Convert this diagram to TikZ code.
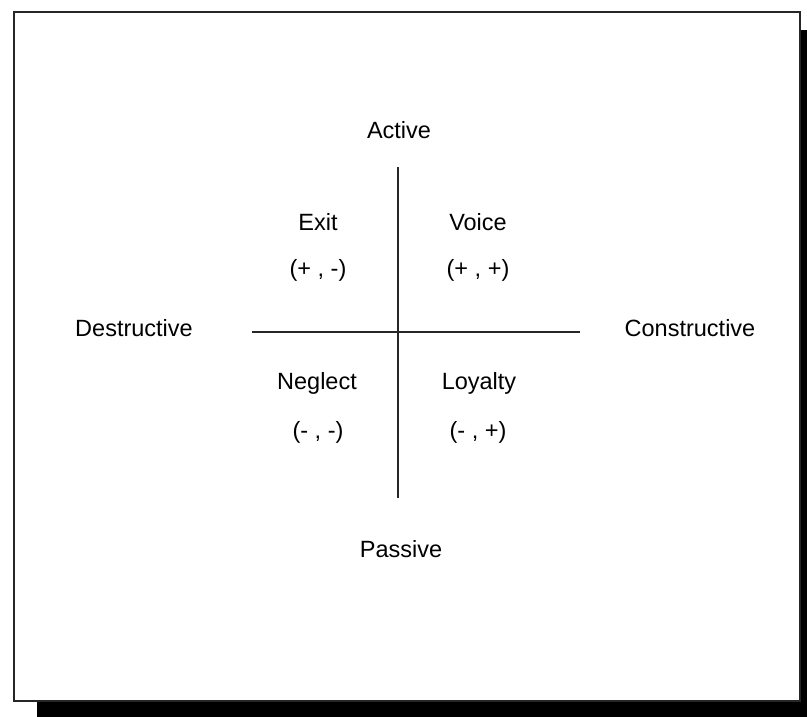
\documentclass[tikz,border=0pt]{standalone}
\usepackage{fontspec}
\setmainfont{Liberation Sans}
\usepackage{tikz}
\usetikzlibrary{positioning}
\tikzset{lbl/.style={inner sep=0pt,font=\fontsize{23.5}{28}\selectfont},
         axis/.style={line width=2.2pt,black!85}}

\begin{document}
\begin{tikzpicture}[x=1pt,y=-1pt]
                \useasboundingbox (0,0) rectangle (807,717);
                % frame with shadow
                \fill[black] (37,701) rectangle (807,717);
                \fill[black] (799,30) rectangle (807,717);
                \draw[line width=2.5pt,black!85] (14,12) rectangle (800,701);

                % axes
                \coordinate (top) at (398,167);
                \coordinate (bottom) at (398,498);
                \coordinate (left) at (252,332);
                \coordinate (right) at (580,332);
                \draw[axis] (top) -- (bottom);
                \draw[axis] (left) -- (right);

                \node[lbl] (active) at (399,130) {Active};
                \node[lbl] (passive) at (401,549) {Passive};
                \node[lbl] (destr) at (134,328) {Destructive};
                \node[lbl] (constr) at (690,328) {Constructive};

                \node[lbl] (exit) at (318,222) {Exit};
                \node[lbl] (voice) at (478,222) {Voice};
                \node[lbl] (neglect) at (317,383) {Neglect};
                \node[lbl] (loyalty) at (479,383) {Loyalty};

                \node[lbl] (exitsign) at (318,270) {(+ , -)};
                \node[lbl] (voicesign) at (478,270) {(+ , +)};
                \node[lbl] (neglectsign) at (318,432) {(- , -)};
                \node[lbl] (loyaltysign) at (478,432) {(- , +)};
            \end{tikzpicture}
\end{document}
